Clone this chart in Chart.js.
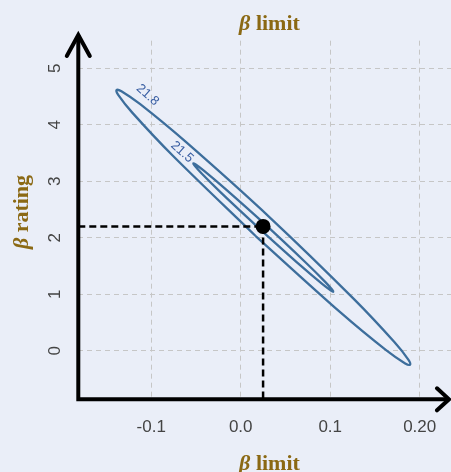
<!DOCTYPE html>
<html>
<head>
<meta charset="utf-8">
<script src="https://cdn.jsdelivr.net/npm/chart.js@4.4.1/dist/chart.umd.min.js"></script>
<style>
  html, body { margin: 0; padding: 0; background: #eaeef8; }
  #wrap { width: 451px; height: 472px; }
</style>
</head>
<body>
<div id="wrap"><canvas id="c" width="451" height="472"></canvas></div>
<script>
// ---- data ----
const xTickValues = [-0.1, 0, 0.1, 0.2];
const xTickLabels = ['-0.1', '0.0', '0.1', '0.20'];
const yTickValues = [0, 1, 2, 3, 4, 5];
const yTickLabels = ['0', '1', '2', '3', '4', '5'];

// contour level 21.8 (outer)
const contour218X = [0.0164, -0.0761, -0.1212, -0.1369, -0.1387, -0.1333, -0.1123, -0.0616, 0.0341, 0.1266, 0.1717, 0.1875, 0.1892, 0.1838, 0.1628, 0.1121, 0.0164];
const contour218Y = [2.034, 3.455, 4.214, 4.529, 4.614, 4.593, 4.363, 3.699, 2.335, 0.913, 0.154, -0.161, -0.246, -0.225, 0.005, 0.669, 2.034];
// contour level 21.5 (inner)
const contour215X = [0.0226, -0.0218, -0.0439, -0.0518, -0.0530, -0.0507, -0.0412, -0.0175, 0.0279, 0.0723, 0.0944, 0.1023, 0.1035, 0.1012, 0.0917, 0.0680, 0.0226];
const contour215Y = [2.135, 2.795, 3.142, 3.283, 3.317, 3.301, 3.188, 2.869, 2.227, 1.566, 1.219, 1.078, 1.044, 1.060, 1.173, 1.492, 2.135];

const contourLabels = ['21.8', '21.5'];
const contourLabelX = [-0.104, -0.0656];
const contourLabelY = [4.525, 3.517];

const estimateX = [0.025];
const estimateY = [2.2];

const xMin = -0.1815, xMax = 0.235;
const yMin = -0.86, yMax = 5.487;

const toPts = (xs, ys) => xs.map((x, i) => ({ x: x, y: ys[i] }));

const contourColor = '#3d6e9c';
const titleColor = '#8b6914';

const decor = {
  id: 'decor',
  beforeDraw(chart) {
    const ctx = chart.ctx;
    ctx.save();
    ctx.fillStyle = '#eaeef8';
    ctx.fillRect(0, 0, chart.width, chart.height);
    ctx.restore();
  },
  afterDatasetsDraw(chart) {
    const ctx = chart.ctx;
    const xs = chart.scales.x, ys = chart.scales.y;
    ctx.save();
    ctx.fillStyle = '#3a5fa3';
    ctx.font = '13px "Liberation Sans", Arial, sans-serif';
    ctx.textAlign = 'center';
    ctx.textBaseline = 'middle';
    contourLabels.forEach((t, i) => {
      ctx.save();
      ctx.translate(xs.getPixelForValue(contourLabelX[i]), ys.getPixelForValue(contourLabelY[i]));
      ctx.rotate(42 * Math.PI / 180);
      ctx.fillText(t, 0, 0);
      ctx.restore();
    });
    ctx.restore();
  },
  afterDraw(chart) {
    const ctx = chart.ctx;
    const a = chart.chartArea;
    const xs = chart.scales.x, ys = chart.scales.y;
    ctx.save();
    ctx.strokeStyle = '#000';
    ctx.lineWidth = 4;
    ctx.lineCap = 'butt';
    ctx.beginPath();
    ctx.moveTo(a.left, a.bottom + 2);
    ctx.lineTo(a.left, 35);
    ctx.moveTo(a.left - 2, a.bottom);
    ctx.lineTo(449, a.bottom);
    ctx.stroke();
    ctx.lineCap = 'round';
    ctx.lineJoin = 'miter';
    ctx.beginPath();
    ctx.moveTo(a.left - 11.5, 56);
    ctx.lineTo(a.left, 35);
    ctx.lineTo(a.left + 11.5, 56);
    ctx.stroke();
    ctx.beginPath();
    ctx.moveTo(437, a.bottom - 11);
    ctx.lineTo(449, a.bottom);
    ctx.lineTo(437, a.bottom + 11);
    ctx.stroke();

    ctx.fillStyle = '#444';
    ctx.font = '17px "Liberation Sans", Arial, sans-serif';
    ctx.textAlign = 'center';
    ctx.textBaseline = 'alphabetic';
    xTickValues.forEach((v, i) => {
      ctx.fillText(xTickLabels[i], xs.getPixelForValue(v), 432);
    });
    yTickValues.forEach((v, i) => {
      ctx.save();
      ctx.translate(60, ys.getPixelForValue(v));
      ctx.rotate(-Math.PI / 2);
      ctx.fillText(yTickLabels[i], 0, 0);
      ctx.restore();
    });

    function title(beta, rest, cx, cy, rot) {
      ctx.save();
      ctx.translate(cx, cy);
      ctx.rotate(rot);
      ctx.fillStyle = titleColor;
      ctx.textBaseline = 'alphabetic';
      ctx.textAlign = 'left';
      ctx.font = 'italic bold 22px "Liberation Serif", serif';
      const w1 = ctx.measureText(beta).width;
      ctx.font = 'bold 22px "Liberation Serif", serif';
      const w2 = ctx.measureText(rest).width;
      const x0 = -(w1 + w2) / 2;
      ctx.font = 'italic bold 22px "Liberation Serif", serif';
      ctx.fillText(beta, x0, 0);
      ctx.font = 'bold 22px "Liberation Serif", serif';
      ctx.fillText(rest, x0 + w1, 0);
      ctx.restore();
    }
    title('\u03B2', ' limit', 269.5, 30, 0);
    title('\u03B2', ' limit', 269.5, 470, 0);
    title('\u03B2', ' rating', 28, 212, -Math.PI / 2);
    ctx.restore();
  }
};

new Chart(document.getElementById('c'), {
  type: 'scatter',
  data: {
    datasets: [
      {
        label: 'estimate',
        data: toPts(estimateX, estimateY),
        pointRadius: 7.5,
        pointHoverRadius: 7.5,
        backgroundColor: '#000',
        borderColor: '#000',
        borderWidth: 0,
        showLine: false
      },
      {
        label: 'h-guide',
        data: [{ x: xMin, y: estimateY[0] }, { x: estimateX[0], y: estimateY[0] }],
        showLine: true,
        borderColor: '#000',
        borderWidth: 2.5,
        borderDash: [7, 4],
        pointRadius: 0
      },
      {
        label: 'v-guide',
        data: [{ x: estimateX[0], y: estimateY[0] }, { x: estimateX[0], y: yMin }],
        showLine: true,
        borderColor: '#000',
        borderWidth: 2.5,
        borderDash: [7, 4],
        pointRadius: 0
      },
      {
        label: '21.5',
        data: toPts(contour215X, contour215Y),
        showLine: true,
        borderColor: contourColor,
        borderWidth: 2.3,
        tension: 0.35,
        pointRadius: 0
      },
      {
        label: '21.8',
        data: toPts(contour218X, contour218Y),
        showLine: true,
        borderColor: contourColor,
        borderWidth: 2.3,
        tension: 0.35,
        pointRadius: 0
      }
    ]
  },
  options: {
    responsive: false,
    animation: false,
    devicePixelRatio: 1,
    layout: { autoPadding: false, padding: { top: 40.7, right: 0, left: 0, bottom: 0 } },
    plugins: { legend: { display: false }, tooltip: { enabled: false }, title: { display: false } },
    scales: {
      x: {
        type: 'linear',
        min: xMin, max: xMax,
        afterBuildTicks: s => { s.ticks = xTickValues.map(v => ({ value: v })); },
        afterFit: s => { s.height = 72.7; },
        ticks: { display: false },
        grid: { color: '#c6c6c6', lineWidth: 1, drawTicks: false },
        border: { display: false, dash: [5, 4] }
      },
      y: {
        type: 'linear',
        min: yMin, max: yMax,
        afterBuildTicks: s => { s.ticks = yTickValues.map(v => ({ value: v })); },
        afterFit: s => { s.width = 78.3; },
        ticks: { display: false },
        grid: { color: '#c6c6c6', lineWidth: 1, drawTicks: false },
        border: { display: false, dash: [5, 4] }
      }
    }
  },
  plugins: [decor]
});
</script>
</body>
</html>
